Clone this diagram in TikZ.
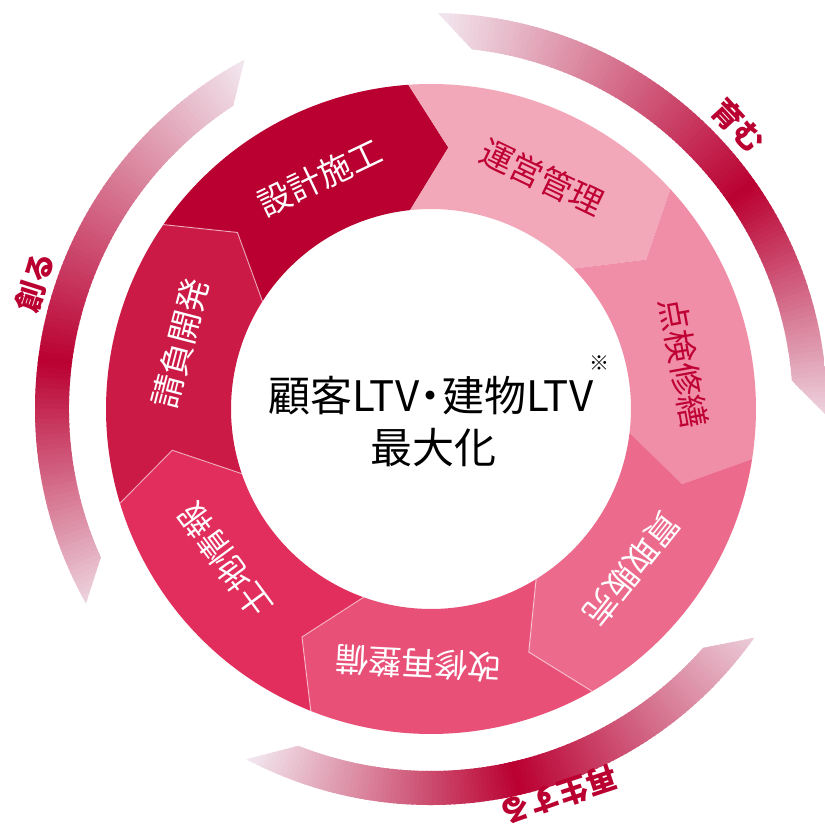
\documentclass[tikz,border=0pt]{standalone}
\usepackage{fontspec}
\newfontfamily\jp{Noto Sans CJK JP}
\definecolor{segA}{HTML}{B90030}
\definecolor{segB}{HTML}{F3A8BA}
\definecolor{segC}{HTML}{F08DA7}
\definecolor{segD}{HTML}{EC6B8D}
\definecolor{segE}{HTML}{E95078}
\definecolor{segF}{HTML}{E12E5C}
\definecolor{segG}{HTML}{CC1A47}
\definecolor{txtred}{HTML}{BE0032}
\definecolor{crim}{HTML}{BA0031}
\definecolor{lav}{RGB}{244,240,246}
% segment: #1 back boundary angle, #2 front boundary angle, #3 colour
\newcommand\ringseg[3]{%
  \fill[#3] ({#1-1}:325pt) arc[start angle={#1-1}, end angle={#2-1}, radius=325pt]
    -- ({#2-8.8}:262pt) -- ({#2+1}:200pt)
    arc[start angle={#2+1}, end angle={#1+1}, radius=200pt]
    -- ({#1-8.8}:262pt) -- cycle;}
\newcommand\segline[1]{%
  \draw[white, opacity=0.55, line width=1pt, line join=miter]
    ({#1-1}:325pt) -- ({#1-8.8}:262pt) -- ({#1+1}:200pt);}
% gradient arc: #1 outer start, #2 inner start, #3 outer end, #4 inner end, #5 dark angle, #6 t at start, #7 t at end
\newcommand\gradarc[7]{%
  \begin{scope}
    \clip ({#1}:396pt) arc[start angle={#1}, end angle={#3}, radius=396pt]
      -- ({#4}:362pt) arc[start angle={#4}, end angle={#2}, radius=362pt] -- cycle;
    \pgfmathsetmacro\stp{((#3)-(#1))/120}
    \foreach \i in {0,...,120} {
      \pgfmathsetmacro\ang{(#1)+\i*\stp}
      \pgfmathsetmacro\fr{(\ang-(#1))/((#5)-(#1))}
      \pgfmathsetmacro\tv{\fr<=1 ? (#6)+(100-(#6))*\fr : (#7)+(100-(#7))*(\ang-(#3))/((#5)-(#3))}
      \fill[crim!\tv!lav] (0,0) -- ({\ang-\stp*0.7}:420pt) -- ({\ang+\stp*0.7}:420pt) -- cycle;
    }
  \end{scope}}
\tikzset{
  seglab/.style={font=\jp\fontsize{33}{33}\selectfont, inner sep=0pt},
  arclab/.style={font=\jp\bfseries\fontsize{30}{30}\selectfont, inner sep=0pt, text=crim},
  centrelab/.style={font=\jp\fontsize{42}{42}\selectfont, inner sep=0pt, text=black}
}
\begin{document}
\begin{tikzpicture}[x=1pt,y=1pt]
\useasboundingbox[fill=white] (-431,409) rectangle (394,-419);
% outer gradient arcs
\gradarc{118.1}{123.1}{209.4}{204.2}{173}{3}{12}
\gradarc{89}{83.5}{-1}{4.5}{34.6}{3}{12}
\gradarc{-35.3}{-41.3}{-117.8}{-111.5}{-77}{15}{3}
% ring segments
\ringseg{146.43}{95}{segA}
\ringseg{95}{43.57}{segB}
\ringseg{43.57}{-7.86}{segC}
\ringseg{-7.86}{-59.29}{segD}
\ringseg{-59.29}{-110.71}{segE}
\ringseg{-110.71}{-162.14}{segF}
\ringseg{-162.14}{-213.57}{segG}
\segline{-59.29}
\segline{-110.71}
\segline{-162.14}
\segline{-213.57}
% segment labels
\node[seglab, text=white, rotate=25.6] (sekkei) at (115.6:257pt) {設計施工};
\node[seglab, text=txtred, rotate=-25.6] (unei) at (64.4:257pt) {運営管理};
\node[seglab, text=txtred, rotate=-79.7] (tenken) at (10.3:257pt) {点検修繕};
\node[seglab, text=white, rotate=-128.6] (kaitori) at (-38.6:257pt) {買取販売};
\node[seglab, text=white, rotate=-182.9] (kaishu) at (-92.9:255pt) {改修再整備};
\node[seglab, text=white, rotate=-233.6] (tochi) at (-143.6:256pt) {土地情報};
\node[seglab, text=white, rotate=75.4] (ukeoi) at (165.4:259pt) {請負開発};
% arc labels
\node[arclab, rotate=72.3] (tsukuru) at (162.3:416pt) {創る};
\node[arclab, rotate=-47.4] (hagukumu) at (42.6:418pt) {育む};
\node[arclab, rotate=-161.7] (saisei) at (-71.7:407pt) {再生する};
% centre
\node[centrelab] (ltv) at (0,13) {顧客LTV\kern-0.22em・\kern-0.22em建物LTV};
\node[centrelab] (saidai) at (3,-39) {最大化};
\node[font=\jp\fontsize{20}{20}\selectfont, inner sep=0pt] (kome) at (169,46) {※};
\end{tikzpicture}
\end{document}
